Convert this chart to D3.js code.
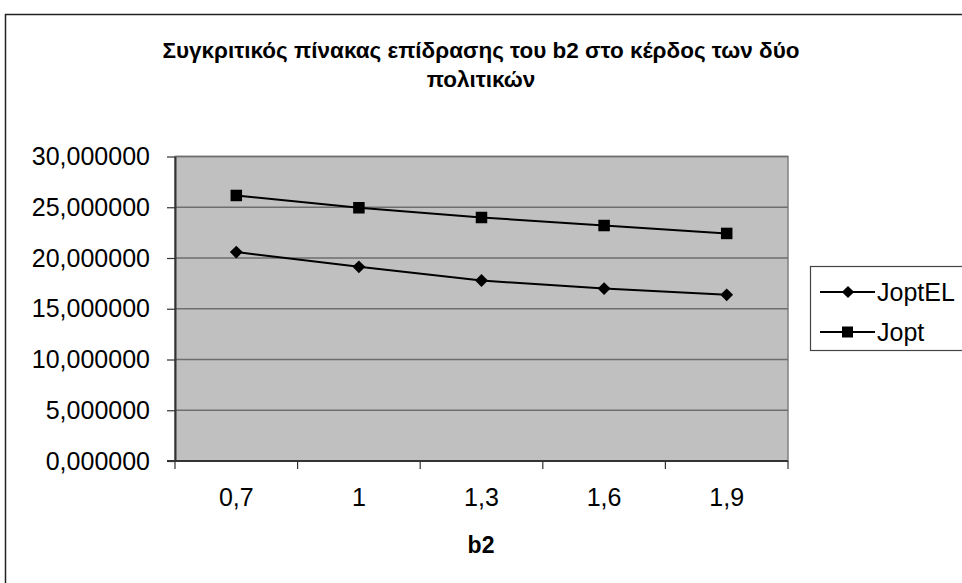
<!DOCTYPE html>
<html>
<head>
<meta charset="utf-8">
<script src="https://cdn.jsdelivr.net/npm/d3@7"></script>
<style>
  html, body { margin: 0; padding: 0; background: #fff; }
  svg { display: block; font-family: Arial, "Liberation Sans", sans-serif; }
</style>
</head>
<body>
<svg id="chart" width="962" height="583"></svg>
<script>
// b2 values on the horizontal axis
const categories = ["0,7", "1", "1,3", "1,6", "1,9"];
// profit of the two policies
const joptEL = [20.58, 19.13, 17.78, 16.99, 16.37];
const jopt = [26.16, 24.95, 23.99, 23.20, 22.42];
const yTicks = [0, 5, 10, 15, 20, 25, 30];
const seriesNames = ["JoptEL", "Jopt"];

const labelFont = 25;
const svg = d3.select("#chart");

// outer chart frame
svg.append("rect")
  .attr("x", 5.5).attr("y", 14.5)
  .attr("width", 970).attr("height", 600)
  .attr("fill", "#fff").attr("stroke", "#222").attr("stroke-width", 1.5);

// title
const title = svg.append("text")
  .attr("text-anchor", "middle")
  .attr("font-weight", "bold")
  .attr("font-size", 22.5)
  .attr("fill", "#000");
title.append("tspan").attr("x", 481).attr("y", 58)
  .text("Συγκριτικός πίνακας επίδρασης του b2 στο κέρδος των δύο");
title.append("tspan").attr("x", 481).attr("y", 87)
  .text("πολιτικών");

const plot = { left: 175, top: 156.5, right: 788, bottom: 461 };

const x = d3.scaleBand()
  .domain(categories)
  .range([plot.left, plot.right]);

const y = d3.scaleLinear()
  .domain([0, 30])
  .range([plot.bottom, plot.top]);

// plot area
svg.append("rect")
  .attr("x", plot.left).attr("y", plot.top)
  .attr("width", plot.right - plot.left).attr("height", plot.bottom - plot.top)
  .attr("fill", "#c0c0c0").attr("stroke", "#808080").attr("stroke-width", 1.5);

// horizontal gridlines
svg.append("g")
  .selectAll("line")
  .data(yTicks.filter(d => d > 0))
  .join("line")
  .attr("x1", plot.left).attr("x2", plot.right)
  .attr("y1", d => y(d)).attr("y2", d => y(d))
  .attr("stroke", "#6e6e6e").attr("stroke-width", 1.5);

// y axis
const yAxis = svg.append("g")
  .attr("transform", `translate(${plot.left},0)`)
  .call(d3.axisLeft(y).tickValues(yTicks)
    .tickFormat(d => d3.format(".6f")(d).replace(".", ","))
    .tickSize(8).tickSizeOuter(0).tickPadding(17));
yAxis.select(".domain").attr("stroke", "#333").attr("stroke-width", 2);
yAxis.selectAll(".tick line").attr("stroke", "#333").attr("stroke-width", 1.2);
yAxis.selectAll("text").attr("font-size", labelFont).attr("fill", "#000")
  .attr("font-family", "Arial, 'Liberation Sans', sans-serif");

// x axis with ticks between categories
const xAxis = svg.append("g")
  .attr("transform", `translate(0,${plot.bottom})`);
xAxis.append("line")
  .attr("x1", plot.left - 8).attr("x2", plot.right)
  .attr("stroke", "#333").attr("stroke-width", 2);
const boundaries = categories.map(c => x(c)).concat([x(categories[categories.length - 1]) + x.bandwidth()]);
xAxis.selectAll("line.tk")
  .data(boundaries)
  .join("line").attr("class", "tk")
  .attr("x1", d => d).attr("x2", d => d)
  .attr("y1", 0).attr("y2", 8)
  .attr("stroke", "#333").attr("stroke-width", 1.2);
xAxis.selectAll("text")
  .data(categories)
  .join("text")
  .attr("x", d => x(d) + x.bandwidth() / 2)
  .attr("y", 45)
  .attr("text-anchor", "middle")
  .attr("font-size", labelFont)
  .attr("fill", "#000")
  .text(d => d);

// axis title
svg.append("text")
  .attr("x", 481).attr("y", 553)
  .attr("text-anchor", "middle")
  .attr("font-weight", "bold").attr("font-size", 23)
  .text("b2");

const cx = (d, i) => x(categories[i]) + x.bandwidth() / 2;
const line = d3.line().x(cx).y(d => y(d));
const diamond = d3.symbol().type(d3.symbolDiamond2).size(105);

function drawSeries(values, type) {
  const g = svg.append("g");
  g.append("path")
    .datum(values)
    .attr("d", line)
    .attr("fill", "none").attr("stroke", "#000").attr("stroke-width", 2);
  if (type === "square") {
    g.selectAll("rect")
      .data(values)
      .join("rect")
      .attr("x", (d, i) => cx(d, i) - 5.75)
      .attr("y", d => y(d) - 5.75)
      .attr("width", 11.5).attr("height", 11.5)
      .attr("fill", "#000");
  } else {
    g.selectAll("path.m")
      .data(values)
      .join("path").attr("class", "m")
      .attr("d", diamond)
      .attr("transform", (d, i) => `translate(${cx(d, i)},${y(d)})`)
      .attr("fill", "#000");
  }
}
drawSeries(joptEL, "diamond");
drawSeries(jopt, "square");

// legend
const legend = svg.append("g");
legend.append("rect")
  .attr("x", 810.5).attr("y", 266.5)
  .attr("width", 160).attr("height", 84)
  .attr("fill", "#fff").attr("stroke", "#444").attr("stroke-width", 1.2);
const legendRows = [
  { name: seriesNames[0], type: "diamond", y: 292 },
  { name: seriesNames[1], type: "square", y: 332 }
];
legendRows.forEach(r => {
  legend.append("line")
    .attr("x1", 820).attr("x2", 875)
    .attr("y1", r.y).attr("y2", r.y)
    .attr("stroke", "#000").attr("stroke-width", 2);
  if (r.type === "square") {
    legend.append("rect")
      .attr("x", 842).attr("y", r.y - 5.5)
      .attr("width", 11).attr("height", 11).attr("fill", "#000");
  } else {
    legend.append("path")
      .attr("d", d3.symbol().type(d3.symbolDiamond2).size(95))
      .attr("transform", `translate(848,${r.y})`).attr("fill", "#000");
  }
  legend.append("text")
    .attr("x", 877).attr("y", r.y + 9)
    .attr("font-size", labelFont).attr("fill", "#000")
    .text(r.name);
});
</script>
</body>
</html>
